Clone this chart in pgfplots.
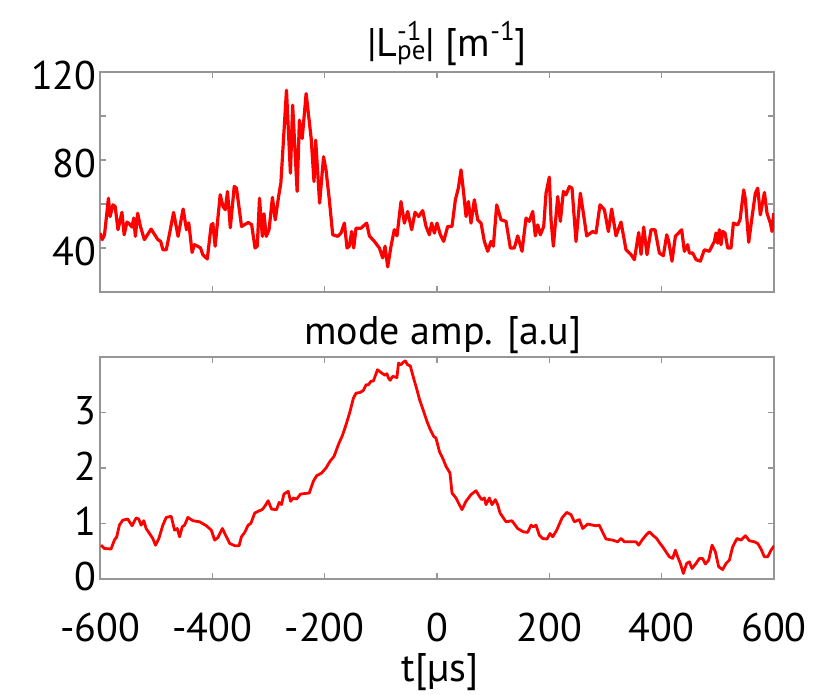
\documentclass[border=0pt]{standalone}
\usepackage{pgfplots}
\pgfplotsset{compat=1.18}
\usepackage{fontspec}
\setmainfont{PT Sans}
\definecolor{axgray}{RGB}{150,150,150}
\newcommand{\bigf}{\fontsize{40}{40}\selectfont}
\newcommand{\smf}{\fontsize{27}{27}\selectfont}
\begin{document}
\begin{tikzpicture}[x=1pt,y=1pt]
\useasboundingbox (0,0) rectangle (826,695);
\pgfplotsset{
  myax/.style={
    scale only axis, width=674pt, anchor=south west,
    xmin=-600, xmax=600,
    xtick={-600,-400,-200,0,200,400,600},
    axis line style={axgray, line width=1.2pt},
    tick style={axgray, line width=1.2pt},
    major tick length=6pt,
    tick align=inside,
    ticklabel style={font=\bigf, text=black},
    clip=true,
  }
}
% top panel
\begin{axis}[myax, at={(100pt,403pt)}, height=220pt,
  ymin=20, ymax=120,
  ytick={40,60,80,100,120}, yticklabels={40,,80,,120},
  xticklabels={},
  yticklabel style={yshift=-4pt}]
\addplot[red, line width=3.2pt, line join=round] table {
-600 46.8
-596 43.8
-592 46
-585 62.6
-582 54.3
-577 59.6
-573 58.9
-568 48.3
-561 56.2
-557 46
-552 51.8
-548 51
-543 49.5
-540 53.6
-537 45.3
-533 55.8
-528 49.8
-521 43.8
-509 48.6
-497 43.8
-492 43
-488 39.2
-482 39.2
-476 46.8
-469 56.2
-461 45.3
-452 57.7
-446 48.3
-442 51.4
-436 38
-432 41.5
-426 40.8
-421 40
-417 37
-409 35
-402 50.5
-399 51.1
-395 40.8
-386 64.2
-381 58.9
-377 57.4
-373 65.7
-368 49.2
-361 68
-357 67.2
-348 49.8
-336 51.6
-330 50.6
-324 40
-320 40.8
-316 62.6
-311 45.3
-308 55.6
-304 45.3
-299 48.3
-293 63
-288 52.8
-282 63.4
-278 69.5
-268 111.7
-261 74
-257 104.9
-249 65.7
-245 98.1
-240 89.8
-233 110.2
-224 89.8
-219 70.2
-216 89
-209 60.4
-202 81.5
-197.6 75.5
-191.7 61.9
-185.7 46
-176.8 45.3
-170.9 46.8
-164.9 51.3
-160.2 40
-156.1 40.8
-151.9 47.5
-148.3 40
-144.2 49
-135.3 49
-125.2 51.3
-120.4 45.5
-111.5 43
-102.6 40
-96.7 35.5
-92.5 40.8
-87.8 31.4
-81.9 40.8
-76 48.3
-71.2 45.5
-64.1 61.1
-58.1 51.3
-52.2 56.6
-45.1 48.3
-39.1 56.2
-32.6 54.3
-25.5 57
-19.5 49.8
-13.6 46
-9.5 51.3
-4.7 46.8
0 51.3
6 46
11.9 43
19 49.8
26.7 49.8
32.7 61.9
38 67.2
42.8 75.5
47.5 64.9
51.7 54.3
55.9 61.1
60.6 51.3
66.5 61.9
72.5 52.8
78.4 51.3
84.3 43
90.3 38.5
96.2 43
100.3 40.8
106.3 59.6
114 52.8
122.9 52.1
130.6 40
137.7 40
143.7 45.5
151.4 38.5
158.5 53.6
164.4 52.1
170.4 56.6
175.1 45.5
179.3 50.5
184 46
190 49.8
194.1 64.9
200 72.2
203 52.8
207.2 40.8
214.9 63.4
219.6 52.1
225 65.7
229.7 64.2
235.6 67.9
240.4 67.2
247.5 43
255.2 64.9
260.6 55.8
266.5 45.5
277.2 47.5
283.1 46.8
290.2 59.6
298 57.4
305.1 47.5
311 57.7
318.7 45.5
327.6 51.8
336.5 39.2
345.4 37
351.4 34.7
359.1 47
363.3 37.1
368 49.5
373.9 37
381.1 48.3
388.2 48.3
395.9 37.7
403 36.5
409 46
412.5 43
418.4 34
424.4 45.3
435.6 48.3
440.4 38.5
446.3 41.5
449.3 37.7
455.2 37.7
461.2 34.7
468.9 34
476 39.2
484.9 38.5
493.8 43
496.8 46.8
499.7 42.2
502.7 48.3
505.7 41.5
508.7 47.5
512.8 46.8
517.6 40
523.5 40
527.7 51.3
535.4 50.5
539.5 52.8
546.1 66.4
549.1 61.9
555 42.6
561 54.3
566.8 64.9
571 67.2
575.7 55.1
582.9 65.2
587.6 55.8
593.5 51.3
596.5 47.5
599.5 55.8
};
\end{axis}
% bottom panel
\begin{axis}[myax, at={(100pt,116pt)}, height=222pt,
  ymin=0, ymax=4,
  ytick={0,1,2,3}, yticklabels={0,1,2,3},
  xticklabels={-600,-400,-200,0,200,400,600},
  xticklabel style={yshift=-30pt},
  yticklabel style={yshift=2pt}]
\addplot[red, line width=2.8pt, line join=round] table {
-598.2 0.61
-592.3 0.55
-580.4 0.54
-574.4 0.70
-570.2 0.76
-565.5 0.97
-559.5 1.06
-550.6 1.08
-542.9 0.96
-535.7 1.10
-531 1.08
-526.8 0.97
-522 1.05
-517.9 0.91
-511.9 0.82
-506 0.73
-501.2 0.61
-495.2 0.73
-488.1 0.97
-482.1 1.11
-473.2 1.13
-467.3 0.88
-462.5 0.91
-458.3 0.76
-453.6 0.94
-449.4 0.97
-443.5 1.11
-434.5 1.05
-422.6 1.03
-410.7 0.96
-401.8 0.88
-395.8 0.70
-389.9 0.75
-382.1 0.91
-375 0.76
-369 0.64
-360.1 0.60
-352.4 0.60
-348.2 0.76
-342.3 0.84
-336.3 0.97
-331.5 1.00
-324.4 1.19
-318.5 1.22
-311.3 1.25
-306.5 1.31
-300.6 1.41
-294.6 1.26
-285.7 1.25
-281 1.38
-276.8 1.34
-272.6 1.53
-264.9 1.58
-260.7 1.40
-255.9 1.46
-250 1.44
-242.9 1.53
-227.4 1.55
-220.2 1.76
-214.3 1.86
-205.4 1.91
-197.6 2.0
-190.5 2.12
-183.3 2.21
-175.6 2.42
-167.9 2.60
-161.9 2.78
-154.8 3.02
-148.8 3.26
-144.0 3.35
-136.9 3.36
-131 3.40
-126.2 3.50
-122 3.50
-117.9 3.56
-113.1 3.57
-106 3.77
-98.2 3.71
-92.3 3.67
-89.3 3.70
-86.3 3.62
-83.3 3.58
-79.2 3.65
-74.4 3.64
-71.4 3.63
-68.5 3.89
-64.3 3.86
-60.7 3.90
-56.5 3.93
-52.4 3.86
-47.6 3.84
-41.7 3.62
-35.7 3.41
-31 3.23
-23.8 3.02
-17.9 2.84
-11.9 2.69
-6 2.57
-1.8 2.54
4.2 2.30
11.3 2.15
16 2.03
23.1 1.91
26.7 1.55
33.8 1.46
39.8 1.34
44.5 1.25
51.6 1.40
60.5 1.52
69.4 1.59
75.4 1.49
79.5 1.43
84.3 1.46
87.2 1.34
93.2 1.46
97.9 1.34
103.9 1.43
108 1.34
112.2 1.19
122.9 1.03
133.5 1.05
143.6 0.91
153.7 0.85
161.4 0.84
167.4 0.97
171.5 0.94
176.3 0.97
182.2 0.79
188.1 0.73
195.9 0.72
201.2 0.82
206 0.76
213.1 0.88
222.6 1.10
230.9 1.20
238.6 1.16
244.5 1.03
253.4 1.07
259.4 0.91
268.3 0.99
277.2 0.97
283.1 0.96
289 0.97
295 0.84
300.9 0.72
312.8 0.70
321.7 0.67
327.6 0.73
333.6 0.67
345.4 0.67
354.3 0.67
359.1 0.61
365 0.70
372.1 0.79
378.1 0.85
384 0.79
391.1 0.73
397.1 0.64
401.8 0.58
407.7 0.49
413.7 0.40
419.6 0.37
424.4 0.52
428.5 0.40
433.3 0.28
438.6 0.10
444.5 0.28
449.3 0.31
454 0.19
461.2 0.28
467.1 0.37
473 0.37
477.8 0.27
483.7 0.34
489.7 0.61
495.6 0.49
501.5 0.22
508.6 0.17
514.6 0.28
520.5 0.34
526.4 0.58
534.1 0.73
541.3 0.70
549 0.78
556.1 0.69
565 0.67
571 0.64
576.9 0.54
582.8 0.40
588.8 0.40
594.7 0.52
600.6 0.60
};
\end{axis}
% titles and axis label
\node[anchor=base, inner sep=0] at (447,638) {\bigf |L\rlap{\raisebox{16pt}{\smf -1}}\raisebox{-3pt}{\smf pe}| [m\raisebox{16pt}{\smf -1}]};
\node[anchor=base, inner sep=0] at (443,350) {\bigf mode amp. [a.u]};
\node[anchor=base, inner sep=0] at (440,13) {\bigf t[µs]};
\end{tikzpicture}
\end{document}
